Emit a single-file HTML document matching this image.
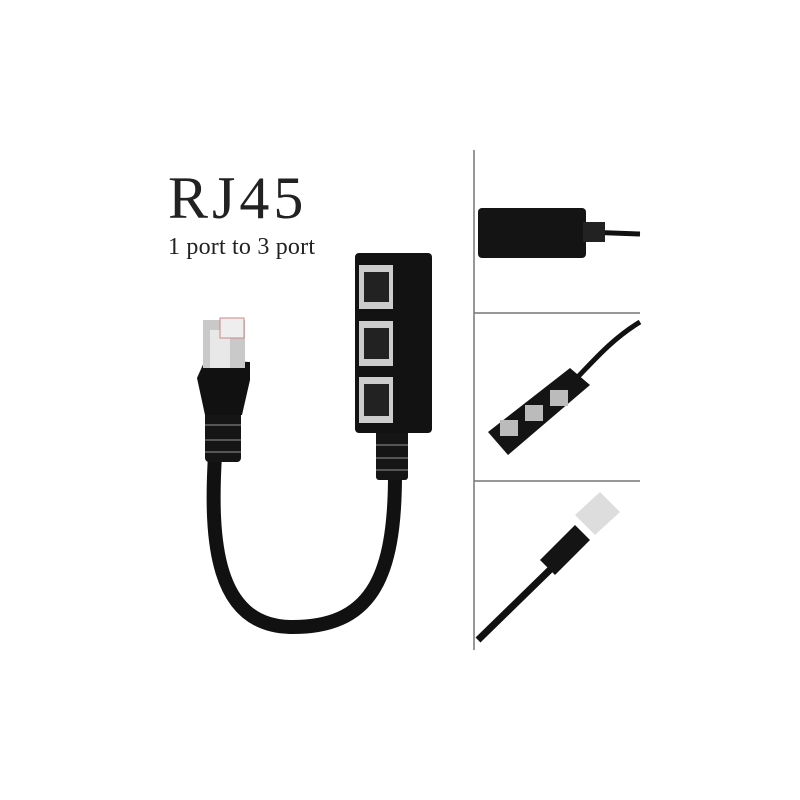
<!DOCTYPE html>
<html><head><style>
body{margin:0;background:#fff;width:800px;height:800px;overflow:hidden}
.t1{position:absolute;left:168px;top:164px;font:60px "Liberation Serif",serif;color:#222;letter-spacing:4px}
.t2{position:absolute;left:168px;top:234px;font:24px "Liberation Serif",serif;color:#222;letter-spacing:0.2px}
</style></head><body>
<div class="t1">RJ45</div>
<div class="t2">1 port to 3 port</div>
<svg width="800" height="800" style="position:absolute;left:0;top:0">
<line x1="474" y1="150" x2="474" y2="650" stroke="#777" stroke-width="1.5"/>
<line x1="474" y1="313" x2="640" y2="313" stroke="#777" stroke-width="1.5"/>
<line x1="474" y1="481" x2="640" y2="481" stroke="#777" stroke-width="1.5"/>
<path d="M215 455 C210 540 215 625 290 627 C370 628 395 580 395 475" fill="none" stroke="#111" stroke-width="14"/>
<rect x="205" y="410" width="36" height="52" rx="4" fill="#151515"/>
<g stroke="#555" stroke-width="2"><line x1="205" y1="425" x2="241" y2="425"/><line x1="205" y1="440" x2="241" y2="440"/><line x1="205" y1="452" x2="241" y2="452"/></g>
<path d="M197 378 L205 360 L250 362 L250 380 L242 415 L205 415 Z" fill="#111"/>
<rect x="203" y="320" width="42" height="48" fill="#c9c9c9"/>
<rect x="210" y="330" width="20" height="38" fill="#e8e8e8"/>
<rect x="220" y="318" width="24" height="20" fill="#eee" stroke="#c88" stroke-width="1"/>
<rect x="376" y="430" width="32" height="50" rx="3" fill="#151515"/>
<g stroke="#555" stroke-width="2"><line x1="376" y1="445" x2="408" y2="445"/><line x1="376" y1="458" x2="408" y2="458"/><line x1="376" y1="470" x2="408" y2="470"/></g>
<rect x="355" y="253" width="77" height="180" rx="4" fill="#121212"/>
<g fill="#ccc"><rect x="359" y="265" width="34" height="44"/><rect x="359" y="321" width="34" height="45"/><rect x="359" y="377" width="34" height="46"/></g>
<g fill="#222"><rect x="364" y="272" width="25" height="30"/><rect x="364" y="328" width="25" height="31"/><rect x="364" y="384" width="25" height="32"/></g>
<path d="M585 232 L640 234" stroke="#111" stroke-width="5"/>
<rect x="478" y="208" width="108" height="50" rx="4" fill="#141414"/>
<rect x="583" y="222" width="22" height="20" fill="#222"/>
<path d="M570 385 C590 365 610 340 640 322" stroke="#111" stroke-width="5" fill="none"/>
<polygon points="488,432 570,368 590,385 508,455" fill="#141414"/>
<g fill="#bbb"><rect x="500" y="420" width="18" height="16"/><rect x="525" y="405" width="18" height="16"/><rect x="550" y="390" width="18" height="16"/></g>
<path d="M478 640 L560 560" stroke="#111" stroke-width="7"/>
<polygon points="540,560 575,525 590,540 555,575" fill="#141414"/>
<polygon points="575,515 600,492 620,512 595,535" fill="#ddd"/>
</svg>
</body></html>
